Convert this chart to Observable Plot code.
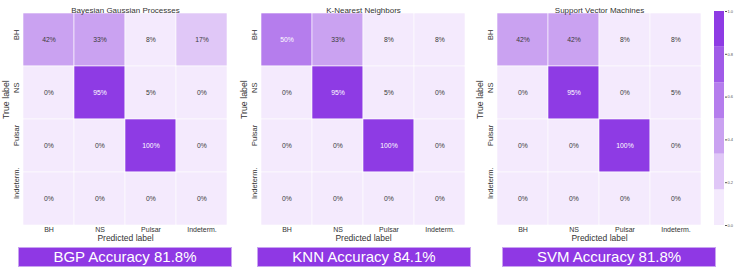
<!DOCTYPE html>
<html>
<head>
<meta charset="utf-8">
<script src="https://cdn.jsdelivr.net/npm/d3@7"></script>
<script src="https://cdn.jsdelivr.net/npm/@observablehq/plot@0.6"></script>
<style>
  html, body { margin: 0; padding: 0; background: white; }
  #root { position: relative; width: 735px; height: 269px; overflow: hidden; font-family: "Liberation Sans", Arial, sans-serif; }
  .banner { position: absolute; top: 247px; height: 20px; box-sizing: border-box; background: #8f38e4; border: 1px solid #c9a4f0;
            color: white; font-size: 15px; line-height: 18px; text-align: center; font-family: "Liberation Sans", Arial, sans-serif; }
</style>
</head>
<body>
<div id="root"></div>
<script>
// ---- data ----
const classes = ["BH", "NS", "Pulsar", "Indeterm."];
const titles = ["Bayesian Gaussian Processes", "K-Nearest Neighbors", "Support Vector Machines"];
const abbrevs = ["BGP", "KNN", "SVM"];
const accuracies = ["81.8", "84.1", "81.8"];
// rows = true label, columns = predicted label, values in percent
const bgpMatrix = [[42, 33, 8, 17], [0, 95, 5, 0], [0, 0, 100, 0], [0, 0, 0, 0]];
const knnMatrix = [[50, 33, 8, 8], [0, 95, 5, 0], [0, 0, 100, 0], [0, 0, 0, 0]];
const svmMatrix = [[42, 42, 8, 8], [0, 95, 0, 5], [0, 0, 100, 0], [0, 0, 0, 0]];
const colorbarTicks = [0, 0.2, 0.4, 0.6, 0.8, 1.0];
const bandEdges = [0, 0.1667, 0.3333, 0.5, 0.6667, 0.8333, 1];

// ---- styles ----
const palette = ["#f4eafd", "#e0c7f7", "#caa2f1", "#b57ded", "#a05be8", "#8e3be4"];
const thresholds = [16, 33, 50, 66, 83];
const font = "Liberation Sans, Arial, sans-serif";
const matrices = [bgpMatrix, knnMatrix, svmMatrix];
const panelLeft = [0, 238, 474];
const bannerLeft = [18, 257, 502];
const bannerWidth = 214;

const root = document.getElementById("root");

matrices.forEach((m, i) => {
  const data = [];
  m.forEach((row, r) => row.forEach((v, c) => data.push({t: classes[r], p: classes[c], v})));
  const chart = Plot.plot({
    width: 236, height: 246,
    marginLeft: 22, marginRight: 8, marginTop: 11, marginBottom: 20,
    style: {background: "transparent", fontFamily: font, overflow: "visible"},
    x: {domain: classes, padding: 0, axis: null},
    y: {domain: classes, padding: 0, axis: null},
    color: {type: "threshold", domain: thresholds, range: palette},
    marks: [
      Plot.cell(data, {x: "p", y: "t", fill: "v", stroke: "white", strokeWidth: 0.6}),
      Plot.text(data, {x: "p", y: "t", text: d => d.v + "%", fill: d => d.v >= 50 ? "white" : "#3a3a3a", fontSize: 6.8}),
      Plot.text(classes, {x: d => d, frameAnchor: "bottom", dy: 5, text: d => d, fontSize: 7, fill: "#333"}),
      Plot.text(classes, {y: d => d, frameAnchor: "left", dx: -6, rotate: -90, text: d => d, fontSize: 7.5, fill: "#333"}),
      Plot.text([titles[i]], {frameAnchor: "top", dy: -4, text: d => d, fontSize: 8, fill: "#333"}),
      Plot.text(["Predicted label"], {frameAnchor: "bottom", dy: 14.5, text: d => d, fontSize: 8.5, fill: "#333"}),
      Plot.text(["True label"], {frameAnchor: "left", dx: -16, rotate: -90, text: d => d, fontSize: 8.8, fill: "#333"})
    ]
  });
  chart.style.position = "absolute";
  chart.style.left = panelLeft[i] + "px";
  chart.style.top = "0px";
  root.appendChild(chart);

  const b = document.createElement("div");
  b.className = "banner";
  b.style.left = bannerLeft[i] + "px";
  b.style.width = bannerWidth + "px";
  b.textContent = `${abbrevs[i]} Accuracy ${accuracies[i]}%`;
  root.appendChild(b);
});

// colorbar
const bands = palette.map((c, k) => ({lo: bandEdges[k], hi: bandEdges[k + 1], c}));
const cbar = Plot.plot({
  width: 21, height: 240,
  marginLeft: 0, marginRight: 11, marginTop: 11, marginBottom: 15,
  style: {background: "transparent", fontFamily: font, overflow: "visible"},
  y: {domain: [0, 1]},
  marks: [
    Plot.rect(bands, {y1: "lo", y2: "hi", fill: "c"}),
    Plot.axisY({anchor: "right", ticks: colorbarTicks, tickFormat: d3.format(".1f"), tickSize: 2, tickPadding: 1, fontSize: 4, label: null, color: "#555"})
  ]
});
cbar.style.position = "absolute";
cbar.style.left = "714px";
cbar.style.top = "0px";
root.appendChild(cbar);
</script>
</body>
</html>
